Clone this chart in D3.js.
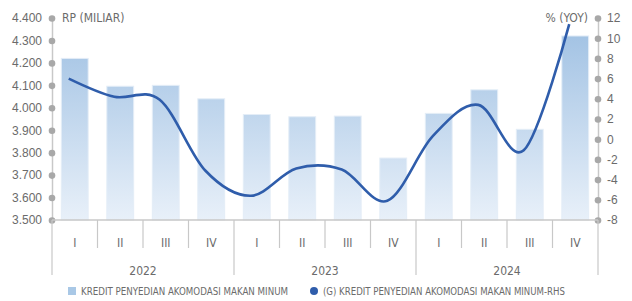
<!DOCTYPE html>
<html>
<head>
<meta charset="utf-8">
<script src="https://cdn.jsdelivr.net/npm/d3@7"></script>
<style>
  body { margin: 0; background: #fff; }
  svg { display: block; font-family: "DejaVu Sans", sans-serif; font-stretch: condensed; }
  .tick text { fill: #6b6b6b; font-size: 12px; }
  .lbl { fill: #6b6b6b; }
</style>
</head>
<body>
<div id="chart"></div>
<script>
// data
const years = ["2022", "2023", "2024"];
const quarters = ["I", "II", "III", "IV"];
const credit = [4220, 4096, 4100, 4040, 3970, 3960, 3963, 3776, 3975, 4080, 3904, 4320];
const growth = [6.0, 4.2, 3.9, -3.1, -5.6, -2.9, -3.0, -6.1, 0.3, 3.4, -1.1, 11.4];
const leftTicks = [3500, 3600, 3700, 3800, 3900, 4000, 4100, 4200, 4300, 4400];
const rightTicks = [-8, -6, -4, -2, 0, 2, 4, 6, 8, 10, 12];

const width = 632, height = 301;
const margin = { top: 18, right: 34, bottom: 81, left: 52 };
const innerW = width - margin.left - margin.right;
const innerH = height - margin.top - margin.bottom;

const keys = [];
years.forEach(y => quarters.forEach(q => keys.push(y + "-" + q)));

const x = d3.scaleBand().domain(keys).range([0, innerW]).paddingInner(0.41).paddingOuter(0.205);
const xStep = innerW / keys.length;
const yL = d3.scaleLinear().domain([3500, 4400]).range([innerH, 0]);
const yR = d3.scaleLinear().domain([-8, 12]).range([innerH, 0]);

const idLocale = d3.formatLocale({ decimal: ",", thousands: ".", grouping: [3], currency: ["", ""] });
const fmt = idLocale.format(",.0f");

const svg = d3.select("#chart").append("svg")
  .attr("width", width).attr("height", height);

const defs = svg.append("defs");
const grad = defs.append("linearGradient").attr("id", "barGrad")
  .attr("gradientUnits", "userSpaceOnUse")
  .attr("x1", 0).attr("x2", 0).attr("y1", 0).attr("y2", innerH);
grad.append("stop").attr("offset", "0%").attr("stop-color", "#9dbfe2");
grad.append("stop").attr("offset", "100%").attr("stop-color", "#e8f0f9");

const g = svg.append("g").attr("transform", `translate(${margin.left},${margin.top})`);

// bars
g.selectAll("rect.bar").data(credit).join("rect")
  .attr("class", "bar")
  .attr("x", (d, i) => x(keys[i]))
  .attr("width", x.bandwidth())
  .attr("y", d => yL(d))
  .attr("height", d => innerH - yL(d))
  .attr("fill", "url(#barGrad)")
  .attr("stroke", "#e4edf7")
  .attr("stroke-width", 1);

// line (drawn slightly left of bar centres, as in the source)
const lineOffset = -6;
const line = d3.line()
  .x((d, i) => x(keys[i]) + x.bandwidth() / 2 + lineOffset)
  .y(d => yR(d))
  .curve(d3.curveCardinal.tension(0));
g.append("path").datum(growth)
  .attr("fill", "none")
  .attr("stroke", "#2f5dab")
  .attr("stroke-width", 2.6)
  .attr("d", line);

// left axis
const axL = g.append("g")
  .call(d3.axisLeft(yL).tickValues(leftTicks).tickFormat(fmt).tickSize(0).tickPadding(10));
axL.select(".domain").attr("stroke", "#c8c8c8").attr("stroke-width", 1.5);
axL.selectAll(".tick").append("circle").attr("r", 3.3).attr("fill", "#a8a8a8");

// right axis
const axR = g.append("g").attr("transform", `translate(${innerW},0)`)
  .call(d3.axisRight(yR).tickValues(rightTicks).tickSize(0).tickPadding(9));
axR.select(".domain").attr("stroke", "#c8c8c8").attr("stroke-width", 1.5);
axR.selectAll(".tick").append("circle").attr("r", 3.3).attr("fill", "#a8a8a8");
axR.selectAll(".tick text").text(d => d < 0 ? "-" + Math.abs(d) : d);

// bottom axis line
g.append("line").attr("x1", 0).attr("x2", innerW).attr("y1", innerH).attr("y2", innerH)
  .attr("stroke", "#c8c8c8").attr("stroke-width", 1.5);

// category separators
const sep = g.append("g").attr("stroke", "#c8c8c8").attr("stroke-width", 1.2);
keys.forEach((k, i) => {
  if (i === 0) return;
  const isYear = i % quarters.length === 0;
  const xx = x(k) - x.step() * x.paddingInner() / 2;
  sep.append("line").attr("x1", xx).attr("x2", xx)
    .attr("y1", innerH).attr("y2", innerH + (isYear ? 55 : 28));
});
[0, innerW].forEach(xx => {
  sep.append("line").attr("x1", xx).attr("x2", xx)
    .attr("y1", innerH).attr("y2", innerH + 55);
});

// quarter labels
g.selectAll("text.q").data(keys).join("text")
  .attr("class", "lbl q")
  .attr("x", k => x(k) + x.bandwidth() / 2)
  .attr("y", innerH + 27)
  .attr("text-anchor", "middle")
  .attr("font-size", 12)
  .text(k => k.split("-")[1]);

// year labels
g.selectAll("text.yr").data(years).join("text")
  .attr("class", "lbl yr")
  .attr("x", (y, i) => xStep * quarters.length * (i + 0.5))
  .attr("y", innerH + 55)
  .attr("text-anchor", "middle")
  .attr("font-size", 12)
  .text(y => y);

// axis titles
g.append("text").attr("class", "lbl").attr("x", 10).attr("y", 4)
  .attr("font-size", 12).text("RP (MILIAR)");
g.append("text").attr("class", "lbl").attr("x", innerW - 10).attr("y", 4)
  .attr("text-anchor", "end").attr("font-size", 12).text("% (YOY)");

// legend
const leg = svg.append("g").attr("transform", `translate(0, ${height - 6})`);
leg.append("rect").attr("x", 68).attr("y", -8).attr("width", 8).attr("height", 8).attr("fill", "#a9c8e6");
leg.append("text").attr("class", "lbl").attr("x", 81).attr("y", 0).attr("font-size", 10.5)
  .attr("textLength", 207).attr("lengthAdjust", "spacingAndGlyphs")
  .text("KREDIT PENYEDIAN AKOMODASI MAKAN MINUM");
leg.append("circle").attr("cx", 314).attr("cy", -4).attr("r", 4).attr("fill", "#2f5dab");
leg.append("text").attr("class", "lbl").attr("x", 323).attr("y", 0).attr("font-size", 10.5)
  .attr("textLength", 242).attr("lengthAdjust", "spacingAndGlyphs")
  .text("(G) KREDIT PENYEDIAN AKOMODASI MAKAN MINUM-RHS");
</script>
</body>
</html>
